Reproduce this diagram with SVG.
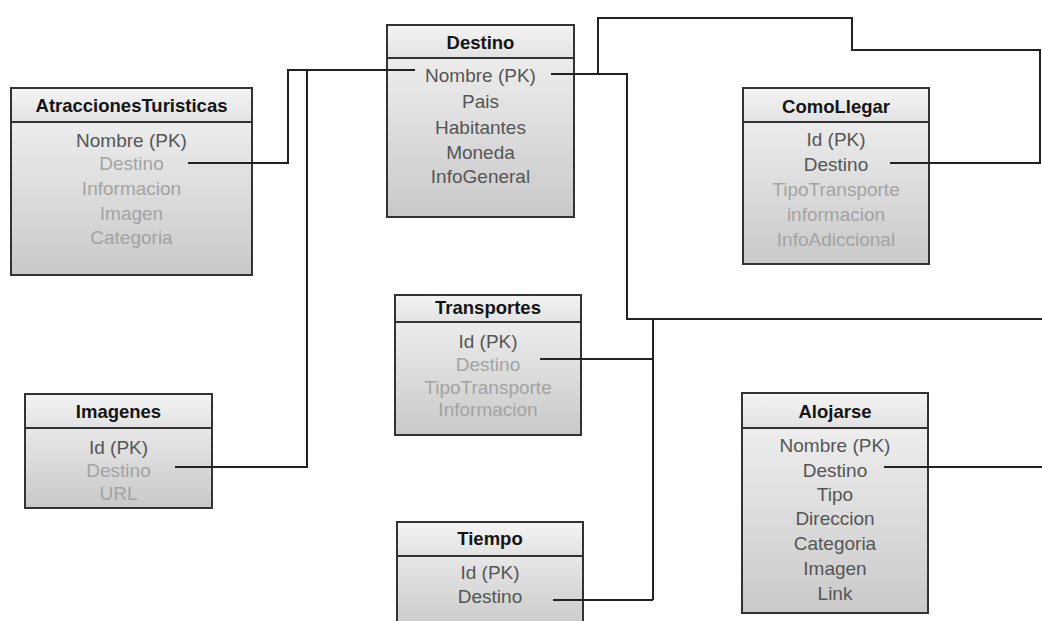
<svg xmlns="http://www.w3.org/2000/svg" width="1042" height="621" viewBox="0 0 1042 621">
  <style>
    .box { fill: url(#body); stroke: #333; stroke-width: 2; }
    .head { fill: url(#header); stroke: #333; stroke-width: 2; }
    .title { font-family: "Liberation Sans", Arial, sans-serif; font-size: 18.5px; font-weight: bold; fill: #151515; text-anchor: middle; dominant-baseline: central; }
    .f { font-family: "Liberation Sans", Arial, sans-serif; font-size: 19px; text-anchor: middle; dominant-baseline: central; }
    .dk { fill: #555555; }
    .lt { fill: #a3a3a3; }
    .wire { fill: none; stroke: #222; stroke-width: 2; }
  </style>
  <defs>
    <linearGradient id="body" x1="0" y1="0" x2="0" y2="1">
      <stop offset="0" stop-color="#f4f4f4"/>
      <stop offset="1" stop-color="#c9c9c9"/>
    </linearGradient>
    <linearGradient id="header" x1="0" y1="0" x2="0" y2="1">
      <stop offset="0" stop-color="#f4f4f4"/>
      <stop offset="1" stop-color="#e2e2e2"/>
    </linearGradient>
  </defs>
  <rect width="1042" height="621" fill="#ffffff"/>

  <g id="atracciones">
    <rect class="box" x="11" y="88" width="241" height="187"/>
    <rect class="head" x="11" y="88" width="241" height="34"/>
    <text class="title" x="131.5" y="105">AtraccionesTuristicas</text>
    <text class="f dk" x="131.5" y="140">Nombre (PK)</text>
    <text class="f lt" x="131.5" y="163">Destino</text>
    <text class="f lt" x="131.5" y="188">Informacion</text>
    <text class="f lt" x="131.5" y="213">Imagen</text>
    <text class="f lt" x="131.5" y="237">Categoria</text>
  </g>

  <g id="destino">
    <rect class="box" x="387" y="25" width="187" height="192"/>
    <rect class="head" x="387" y="25" width="187" height="33"/>
    <text class="title" x="480.5" y="42">Destino</text>
    <text class="f dk" x="480.5" y="75">Nombre (PK)</text>
    <text class="f dk" x="480.5" y="101">Pais</text>
    <text class="f dk" x="480.5" y="127">Habitantes</text>
    <text class="f dk" x="480.5" y="152">Moneda</text>
    <text class="f dk" x="480.5" y="176">InfoGeneral</text>
  </g>

  <g id="comollegar">
    <rect class="box" x="743" y="88" width="186" height="176"/>
    <rect class="head" x="743" y="88" width="186" height="34"/>
    <text class="title" x="836" y="106">ComoLlegar</text>
    <text class="f dk" x="836" y="139">Id (PK)</text>
    <text class="f dk" x="836" y="164">Destino</text>
    <text class="f lt" x="836" y="189">TipoTransporte</text>
    <text class="f lt" x="836" y="214">informacion</text>
    <text class="f lt" x="836" y="239">InfoAdiccional</text>
  </g>

  <g id="transportes">
    <rect class="box" x="395" y="295" width="186" height="140"/>
    <rect class="head" x="395" y="295" width="186" height="27"/>
    <text class="title" x="488" y="307">Transportes</text>
    <text class="f dk" x="488" y="341">Id (PK)</text>
    <text class="f lt" x="488" y="364">Destino</text>
    <text class="f lt" x="488" y="387">TipoTransporte</text>
    <text class="f lt" x="488" y="409">Informacion</text>
  </g>

  <g id="imagenes">
    <rect class="box" x="25" y="394" width="187" height="114"/>
    <rect class="head" x="25" y="394" width="187" height="34"/>
    <text class="title" x="118.5" y="411">Imagenes</text>
    <text class="f dk" x="118.5" y="447">Id (PK)</text>
    <text class="f lt" x="118.5" y="470">Destino</text>
    <text class="f lt" x="118.5" y="493">URL</text>
  </g>

  <g id="tiempo">
    <rect class="box" x="397" y="522" width="186" height="110"/>
    <rect class="head" x="397" y="522" width="186" height="34"/>
    <text class="title" x="490" y="538">Tiempo</text>
    <text class="f dk" x="490" y="572">Id (PK)</text>
    <text class="f dk" x="490" y="596">Destino</text>
  </g>

  <g id="alojarse">
    <rect class="box" x="742" y="393" width="186" height="220"/>
    <rect class="head" x="742" y="393" width="186" height="35"/>
    <text class="title" x="835" y="411">Alojarse</text>
    <text class="f dk" x="835" y="445">Nombre (PK)</text>
    <text class="f dk" x="835" y="470">Destino</text>
    <text class="f dk" x="835" y="494">Tipo</text>
    <text class="f dk" x="835" y="518">Direccion</text>
    <text class="f dk" x="835" y="543">Categoria</text>
    <text class="f dk" x="835" y="568">Imagen</text>
    <text class="f dk" x="835" y="593">Link</text>
  </g>

  <!-- relationship lines, drawn over the tables so they reach the field names -->
  <g id="connectors">
    <path class="wire" d="M188,163 H288 V70 H415"/>
    <path class="wire" d="M175,467 H307 V70"/>
    <path class="wire" d="M551,74 H627 V319 H1042"/>
    <path class="wire" d="M598,74 V18 H852 V50 H1040 V163 H890"/>
    <path class="wire" d="M540,359 H653"/>
    <path class="wire" d="M653,319 V600"/>
    <path class="wire" d="M553,600 H653"/>
    <path class="wire" d="M884,467 H1042"/>
  </g>
</svg>
